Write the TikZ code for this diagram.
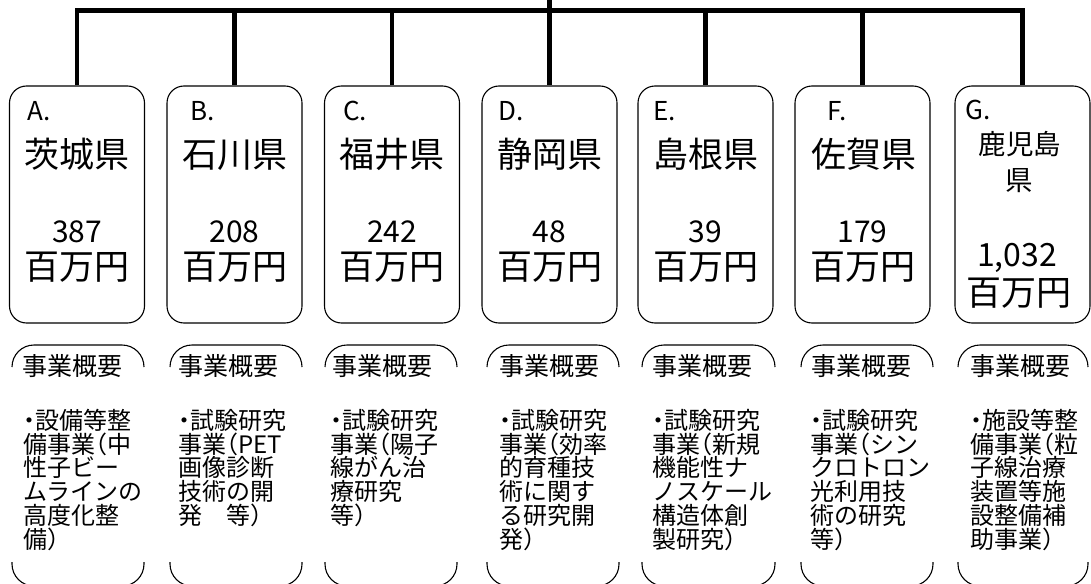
\documentclass[tikz,border=0pt]{standalone}
\usepackage{fontspec}
\setmainfont{Noto Sans CJK JP}
\newfontfamily\hw[RawFeature=+halt]{Noto Sans CJK JP}
\newcommand\lpar{{\hw （}}
\newcommand\rpar{{\hw ）}}
\newcommand\mdot{{\hw ・}}
\begin{document}
\begin{tikzpicture}[x=1pt,y=-1pt,
  topbox/.style={draw, line width=1.1pt, rounded corners=17pt, minimum width=135pt, minimum height=237pt, inner sep=0pt},
  conn/.style={line width=4.5pt},
  brk/.style={line width=1.1pt, rounded corners=22pt},
  letter/.style={anchor=base west, inner sep=0pt, font=\fontsize{26}{26}\selectfont},
  pref/.style={anchor=base, inner sep=0pt, font=\fontsize{35}{35}\selectfont},
  prefs/.style={anchor=base, inner sep=0pt, font=\fontsize{27.5}{27.5}\selectfont},
  amt/.style={anchor=base, inner sep=0pt, font=\fontsize{30}{30}\selectfont},
  unit/.style={anchor=base, inner sep=0pt, font=\fontsize{35}{35}\selectfont},
  head/.style={anchor=base west, inner sep=0pt, font=\fontsize{25}{25}\selectfont},
  bline/.style={anchor=base west, inner sep=0pt, font=\fontsize{24}{24}\selectfont}
]
\newcommand\bodycol[3]{%
  \foreach \t [count=\i] in {#3} {\node[bline] (#1\i) at (#2,{429.5+23.7*(\i-1)}) {\t};}}
\useasboundingbox (0,0) rectangle (1091,583);

% boxes
\node[topbox] (bA) at (77,204.5) {};
\node[topbox] (bB) at (234.5,204.5) {};
\node[topbox] (bC) at (392,204.5) {};
\node[topbox] (bD) at (549.5,204.5) {};
\node[topbox] (bE) at (705.5,204.5) {};
\node[topbox] (bF) at (862.5,204.5) {};
\node[topbox] (bG) at (1022.5,204.5) {};

% connectors
\coordinate (hub) at (549.5,0);
\coordinate (bus) at (549.5,10.5);
\draw[conn] (bA.north) |- (bus) -| (bG.north);
\draw[conn] (hub) -- (bD.north);
\draw[conn] (bB.north) -- (bB.north |- bus);
\draw[conn] (bC.north) -- (bC.north |- bus);
\draw[conn] (bE.north) -- (bE.north |- bus);
\draw[conn] (bF.north) -- (bF.north |- bus);

% box texts
\node[letter] (lA) at (27,121) {A.};
\node[letter] (lB) at (190,121) {B.};
\node[letter] (lC) at (343,121) {C.};
\node[letter] (lD) at (498,121) {D.};
\node[letter] (lE) at (653,121) {E.};
\node[letter] (lF) at (827,121) {F.};
\node[letter] (lG) at (965,119) {G.};

\node[pref] (pA) at (77,167) {茨城県};
\node[pref] (pB) at (234.5,167) {石川県};
\node[pref] (pC) at (392,167) {福井県};
\node[pref] (pD) at (549.5,167) {静岡県};
\node[pref] (pE) at (705.5,167) {島根県};
\node[pref] (pF) at (864,167) {佐賀県};
\node[prefs] (pG1) at (1020,154.5) {鹿児島};
\node[prefs] (pG2) at (1019.5,190.5) {県};

\node[amt] (aA) at (77,242) {387};
\node[amt] (aB) at (234.5,242) {208};
\node[amt] (aC) at (392,242) {242};
\node[amt] (aD) at (549.5,242) {48};
\node[amt] (aE) at (705.5,242) {39};
\node[amt] (aF) at (862.5,242) {179};
\node[amt, font=\fontsize{32}{32}\selectfont] (aG) at (1017,266) {1,032};

\node[unit] (uA) at (77,279) {百万円};
\node[unit] (uB) at (234.5,279) {百万円};
\node[unit] (uC) at (392,279) {百万円};
\node[unit] (uD) at (549.5,279) {百万円};
\node[unit] (uE) at (705.5,279) {百万円};
\node[unit] (uF) at (862.5,279) {百万円};
\node[unit] (uG) at (1019,305) {百万円};

% brackets
\foreach \xa/\xb in {12/144,170/302,325/457,487/619,642/775,801/933,958/1088}{
  \draw[brk] (\xa,367) -- (\xa,345) -- (\xb,345) -- (\xb,367);
  \draw[brk] (\xa,562) -- (\xa,586) -- (\xb,586) -- (\xb,562);
}

% summaries
\node[head] (hA) at (22,375) {事業概要};
\node[head] (hB) at (178,375) {事業概要};
\node[head] (hC) at (332,375) {事業概要};
\node[head] (hD) at (499,375) {事業概要};
\node[head] (hE) at (652,375) {事業概要};
\node[head] (hF) at (811,375) {事業概要};
\node[head] (hG) at (970,375) {事業概要};

\bodycol{tA}{23}{\mdot 設備等整,備事業\lpar 中,性子ビー,ムラインの,高度化整,備\rpar}
\bodycol{tB}{178}{\mdot 試験研究,事業\lpar PET,画像診断,技術の開,発　等\rpar}
\bodycol{tC}{330}{\mdot 試験研究,事業\lpar 陽子,線がん治,療研究,等\rpar}
\bodycol{tD}{499}{\mdot 試験研究,事業\lpar 効率,的育種技,術に関す,る研究開,発\rpar}
\bodycol{tE}{652}{\mdot 試験研究,事業\lpar 新規,機能性ナ,ノスケール,構造体創,製研究\rpar}
\bodycol{tF}{810}{\mdot 試験研究,事業\lpar シン,クロトロン,光利用技,術の研究,等\rpar}
\bodycol{tG}{970}{\mdot 施設等整,備事業\lpar 粒,子線治療,装置等施,設整備補,助事業\rpar}
\end{tikzpicture}
\end{document}
